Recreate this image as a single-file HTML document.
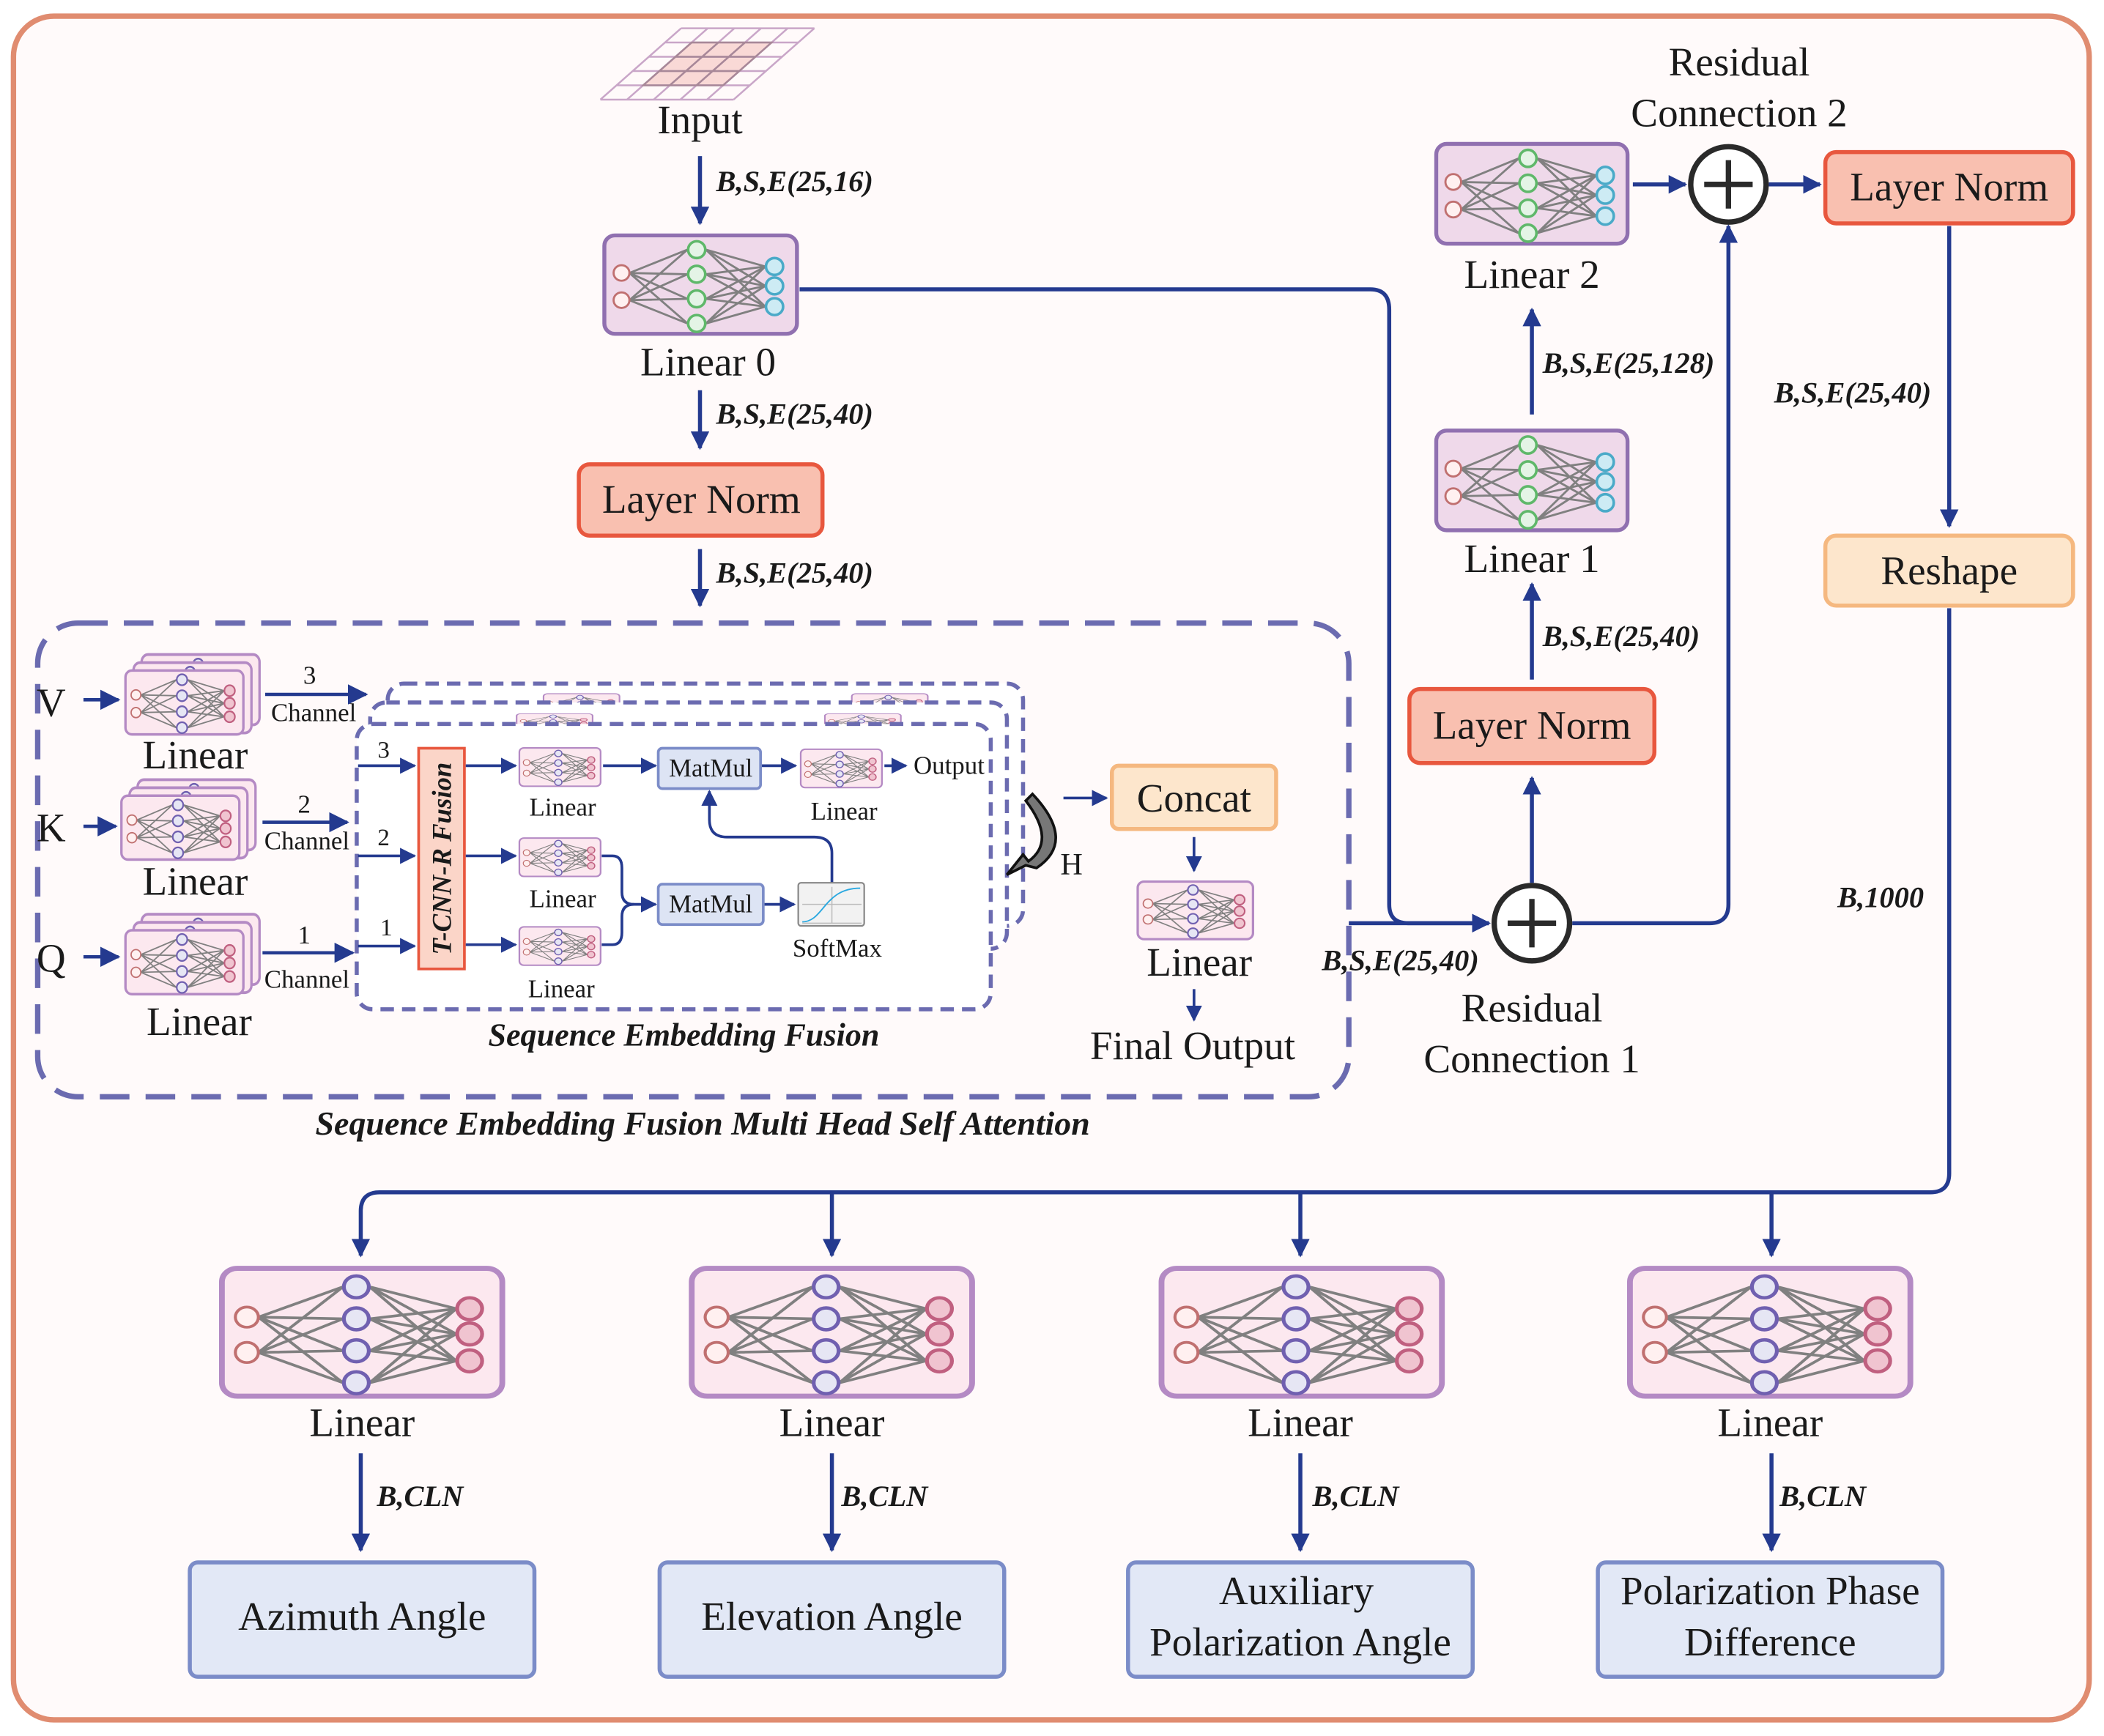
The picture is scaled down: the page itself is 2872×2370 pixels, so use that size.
<!DOCTYPE html>
<html><head><meta charset="utf-8"><style>
html,body{margin:0;padding:0;background:#fff}
svg{display:block}
text{font-family:"Liberation Serif",serif;fill:#1a1a1a}
.l{font-size:30px;text-anchor:middle}
.s{font-size:19px;text-anchor:middle}
.b{font-size:22px;font-weight:bold;font-style:italic}
</style></head><body>
<svg width="2872" height="2370" viewBox="0 0 1563 1290" preserveAspectRatio="none" xmlns="http://www.w3.org/2000/svg">
<defs>
<marker id="ar" viewBox="0 0 10 10" refX="9" refY="5" markerWidth="4.6" markerHeight="4.6" orient="auto-start-reverse"><path d="M0,0L10,5L0,10z" fill="#243a8f"/></marker>
<marker id="ars" viewBox="0 0 10 10" refX="9" refY="5" markerWidth="6" markerHeight="6" orient="auto"><path d="M0,0L10,5L0,10z" fill="#243a8f"/></marker>
<g id="lines">
<g stroke="#808080" stroke-width="1.6">
<path d="M21,31L65,13M21,31L65,32M21,31L65,51M21,31L65,70M21,52L65,13M21,52L65,32M21,52L65,51M21,52L65,70"/>
<path d="M79,13L124,26M79,13L124,41M79,13L124,57M79,32L124,26M79,32L124,41M79,32L124,57M79,51L124,26M79,51L124,41M79,51L124,57M79,70L124,26M79,70L124,41M79,70L124,57"/>
</g></g>
<symbol id="nnG" viewBox="0 0 150 80" preserveAspectRatio="none">
<rect x="2" y="2" width="146" height="76" rx="8" fill="#efd9ea" stroke="#9070b0" stroke-width="3"/>
<use href="#lines"/>
<g fill="#fff0f0" stroke="#c07070" stroke-width="1.6"><circle cx="15" cy="31" r="6"/><circle cx="15" cy="52" r="6"/></g>
<g fill="#e4f4e6" stroke="#5fb86a" stroke-width="2"><circle cx="72" cy="13" r="6.5"/><circle cx="72" cy="32" r="6.5"/><circle cx="72" cy="51" r="6.5"/><circle cx="72" cy="70" r="6.5"/></g>
<g fill="#cdebf4" stroke="#4aaac8" stroke-width="2"><circle cx="131" cy="26" r="6.5"/><circle cx="131" cy="41" r="6.5"/><circle cx="131" cy="57" r="6.5"/></g>
</symbol>
<symbol id="nnP" viewBox="0 0 150 80" preserveAspectRatio="none">
<rect x="2" y="2" width="146" height="76" rx="8" fill="#fce8ef" stroke="#b48ac4" stroke-width="3"/>
<use href="#lines"/>
<g fill="#fff0f0" stroke="#c07070" stroke-width="1.6"><circle cx="15" cy="31" r="6"/><circle cx="15" cy="52" r="6"/></g>
<g fill="#e6e6f4" stroke="#7060b0" stroke-width="2"><circle cx="72" cy="13" r="6.5"/><circle cx="72" cy="32" r="6.5"/><circle cx="72" cy="51" r="6.5"/><circle cx="72" cy="70" r="6.5"/></g>
<g fill="#f0c4d0" stroke="#c06080" stroke-width="2"><circle cx="131" cy="26" r="6.5"/><circle cx="131" cy="41" r="6.5"/><circle cx="131" cy="57" r="6.5"/></g>
</symbol>
</defs>

<rect x="10" y="12" width="1542" height="1266" rx="30" fill="#fffafa" stroke="#e08c70" stroke-width="4"/>

<g transform="matrix(19.8,0,-12,10.6,506,21)">
<rect x="1" y="1" width="3" height="3" fill="#f9d9d6"/>
<path vector-effect="non-scaling-stroke" fill="none" stroke="#c9a6c8" stroke-width="2.5" d="M0,0H5M0,1H5M0,2H5M0,3H5M0,4H5M0,5H5M0,0V5M1,0V5M2,0V5M3,0V5M4,0V5M5,0V5"/>
<path vector-effect="non-scaling-stroke" fill="none" stroke="#a88898" stroke-width="2.5" d="M1,1H4V4H1ZM2,1V4M3,1V4M1,2H4M1,3H4"/>
</g>
<text x="520" y="99" class="l">Input</text>

<g stroke="#243a8f" stroke-width="3" fill="none">
<path d="M520,116V166" marker-end="url(#ar)"/>
<path d="M520,290V333" marker-end="url(#ar)"/>
<path d="M520,408V450" marker-end="url(#ar)"/>
<path d="M594,215H1018Q1032,215 1032,230V672Q1032,686 1046,686H1106" marker-end="url(#ar)"/>
<path d="M1002,686H1106" marker-end="url(#ar)"/>
<path d="M1138,656V578" marker-end="url(#ar)"/>
<path d="M1138,505V434" marker-end="url(#ar)"/>
<path d="M1138,308V230" marker-end="url(#ar)"/>
<path d="M1213,137H1252" marker-end="url(#ar)"/>
<path d="M1168,686H1270Q1284,686 1284,672V168" marker-end="url(#ar)"/>
<path d="M1314,137H1352" marker-end="url(#ar)"/>
<path d="M1448,168V391" marker-end="url(#ar)"/>
<path d="M1448,452V872Q1448,886 1434,886H282Q268,886 268,900V933" marker-end="url(#ar)"/>
<path d="M618,886V933" marker-end="url(#ar)"/>
<path d="M966,886V933" marker-end="url(#ar)"/>
<path d="M1316,886V933" marker-end="url(#ar)"/>
<path d="M268,1080V1152" marker-end="url(#ar)"/>
<path d="M618,1080V1152" marker-end="url(#ar)"/>
<path d="M966,1080V1152" marker-end="url(#ar)"/>
<path d="M1316,1080V1152" marker-end="url(#ar)"/>
</g>

<text x="532" y="142" class="b">B,S,E(25,16)</text>
<use href="#nnG" x="447" y="173" width="147" height="77"/>
<text x="526" y="279" class="l">Linear 0</text>
<text x="532" y="315" class="b">B,S,E(25,40)</text>
<rect x="430" y="345" width="181" height="53" rx="8" fill="#f9c0b0" stroke="#e8573e" stroke-width="3"/>
<text x="521" y="381" class="l">Layer Norm</text>
<text x="532" y="433" class="b">B,S,E(25,40)</text>

<circle cx="1138" cy="686" r="28" fill="#fff" stroke="#2a2a2a" stroke-width="4"/>
<path d="M1120,686H1156M1138,668V704" stroke="#2a2a2a" stroke-width="4"/>
<text x="982" y="721" class="b">B,S,E(25,40)</text>
<text x="1138" y="759" class="l">Residual</text>
<text x="1138" y="797" class="l">Connection 1</text>
<rect x="1047" y="512" width="182" height="55" rx="8" fill="#f9c0b0" stroke="#e8573e" stroke-width="3"/>
<text x="1138" y="549" class="l">Layer Norm</text>
<text x="1146" y="480" class="b">B,S,E(25,40)</text>
<use href="#nnG" x="1065" y="318" width="146" height="78"/>
<text x="1138" y="425" class="l">Linear 1</text>
<text x="1146" y="277" class="b">B,S,E(25,128)</text>
<use href="#nnG" x="1065" y="105" width="146" height="78"/>
<text x="1138" y="214" class="l">Linear 2</text>
<circle cx="1284" cy="137" r="28" fill="#fff" stroke="#2a2a2a" stroke-width="4"/>
<path d="M1266,137H1302M1284,119V155" stroke="#2a2a2a" stroke-width="4"/>
<text x="1292" y="56" class="l">Residual</text>
<text x="1292" y="94" class="l">Connection 2</text>
<rect x="1356" y="113" width="184" height="53" rx="8" fill="#f9c0b0" stroke="#e8573e" stroke-width="3"/>
<text x="1448" y="149" class="l">Layer Norm</text>
<text x="1318" y="299" class="b">B,S,E(25,40)</text>
<rect x="1356" y="398" width="184" height="52" rx="8" fill="#fde6cc" stroke="#f5b880" stroke-width="3"/>
<text x="1448" y="434" class="l">Reshape</text>
<text x="1365" y="674" class="b">B,1000</text>

<rect x="28" y="463" width="974" height="352" rx="30" fill="none" stroke="#6b6bb0" stroke-width="4" stroke-dasharray="22,12"/>
<g font-size="30"><text x="38" y="532" class="l">V</text><text x="38" y="625" class="l">K</text><text x="38" y="722" class="l">Q</text></g>
<g stroke="#243a8f" stroke-width="2.5" fill="none">
<path d="M62,520H88" marker-end="url(#ars)"/><path d="M62,614H86" marker-end="url(#ars)"/><path d="M62,711H88" marker-end="url(#ars)"/>
<path d="M197,516H272" marker-end="url(#ars)"/><path d="M195,611H258" marker-end="url(#ars)"/><path d="M195,708H262" marker-end="url(#ars)"/>
</g>
<use href="#nnP" x="104" y="485" width="90" height="55"/><use href="#nnP" x="98" y="491" width="90" height="55"/><use href="#nnP" x="92" y="497" width="90" height="50"/>
<use href="#nnP" x="101" y="578" width="90" height="55"/><use href="#nnP" x="95" y="584" width="90" height="55"/><use href="#nnP" x="89" y="590" width="90" height="50"/>
<use href="#nnP" x="104" y="678" width="90" height="55"/><use href="#nnP" x="98" y="684" width="90" height="55"/><use href="#nnP" x="92" y="690" width="90" height="50"/>
<text x="145" y="571" class="l">Linear</text><text x="145" y="665" class="l">Linear</text><text x="148" y="769" class="l">Linear</text>
<g font-size="19" text-anchor="middle"><text x="230" y="508">3</text><text x="233" y="536">Channel</text><text x="226" y="604">2</text><text x="228" y="631">Channel</text><text x="226" y="701">1</text><text x="228" y="734">Channel</text></g>

<rect x="288" y="508" width="472" height="180" rx="12" fill="#fff" stroke="#6b6bb0" stroke-width="3" stroke-dasharray="10,6"/>
<use href="#nnP" x="403" y="515" width="58" height="20"/><use href="#nnP" x="632" y="515" width="58" height="20"/>
<rect x="275" y="522" width="473" height="183" rx="12" fill="#fff" stroke="#6b6bb0" stroke-width="3" stroke-dasharray="10,6"/>
<use href="#nnP" x="383" y="530" width="58" height="15"/><use href="#nnP" x="612" y="530" width="58" height="15"/>
<rect x="265" y="538" width="471" height="212" rx="12" fill="#fff" stroke="#6b6bb0" stroke-width="3" stroke-dasharray="10,6"/>

<rect x="311" y="556" width="34" height="164" fill="#fbd5c8" stroke="#e8573e" stroke-width="2"/>
<text transform="translate(335,638) rotate(-90)" font-size="20" font-weight="bold" font-style="italic" text-anchor="middle">T-CNN-R Fusion</text>
<g font-size="18" text-anchor="middle"><text x="285" y="563">3</text><text x="285" y="628">2</text><text x="287" y="695">1</text></g>
<g stroke="#243a8f" stroke-width="2" fill="none">
<path d="M266,569H308" marker-end="url(#ars)"/><path d="M266,636H308" marker-end="url(#ars)"/><path d="M266,703H308" marker-end="url(#ars)"/>
<path d="M346,569H383" marker-end="url(#ars)"/><path d="M346,636H383" marker-end="url(#ars)"/><path d="M346,702H383" marker-end="url(#ars)"/>
<path d="M448,569H487" marker-end="url(#ars)"/><path d="M566,569H591" marker-end="url(#ars)"/><path d="M657,569H673" marker-end="url(#ars)"/>
<path d="M447,636H455Q462,636 462,645V663Q462,672 471,672H487" marker-end="url(#ars)"/>
<path d="M447,702H455Q462,702 462,693V681Q462,672 471,672"/>
<path d="M567,672H590" marker-end="url(#ars)"/>
<path d="M618,656V634Q618,622 605,622H540Q527,622 527,609V588" marker-end="url(#ars)"/>
<path d="M790,593H822" marker-end="url(#ars)"/>
<path d="M887,622V647" marker-end="url(#ars)"/>
<path d="M887,735V758" marker-end="url(#ars)"/>
</g>
<use href="#nnP" x="385" y="555" width="62" height="30"/><use href="#nnP" x="385" y="622" width="62" height="30"/><use href="#nnP" x="385" y="688" width="62" height="30"/>
<use href="#nnP" x="594" y="556" width="62" height="30"/>
<text x="418" y="606" class="s">Linear</text><text x="418" y="674" class="s">Linear</text><text x="417" y="741" class="s">Linear</text><text x="627" y="609" class="s">Linear</text><text x="705" y="575" class="s">Output</text><text x="622" y="711" class="s">SoftMax</text>
<rect x="489" y="556" width="76" height="30" rx="3" fill="#dde4f4" stroke="#7b8cc8" stroke-width="2"/>
<text x="528" y="577" class="s">MatMul</text>
<rect x="489" y="657" width="78" height="30" rx="3" fill="#dde4f4" stroke="#7b8cc8" stroke-width="2"/>
<text x="528" y="678" class="s">MatMul</text>
<rect x="593" y="656" width="49" height="32" rx="2" fill="#f2f2f2" stroke="#888" stroke-width="1.2"/>
<path d="M596,686H640M618,659V686M596,672H640" stroke="#bbb" stroke-width="0.8"/>
<path d="M596,685C612,685 612,660 639,660" stroke="#2aa8e0" stroke-width="1" fill="none"/>
<path d="M767,590Q800,625 770,645L762,643L748,650L760,635L764,640Q785,625 762,595Z" fill="#777" stroke="#111" stroke-width="2"/>
<text x="796" y="650" font-size="23" text-anchor="middle">H</text>
<rect x="826" y="569" width="122" height="47" rx="5" fill="#fde6cc" stroke="#f5b880" stroke-width="3"/>
<text x="887" y="603" class="l">Concat</text>
<use href="#nnP" x="844" y="654" width="88" height="45"/>
<text x="891" y="725" class="l">Linear</text>
<text x="886" y="787" class="l">Final Output</text>
<text x="508" y="777" font-size="24" font-weight="bold" font-style="italic" text-anchor="middle">Sequence Embedding Fusion</text>
<text x="522" y="843" font-size="25" font-weight="bold" font-style="italic" text-anchor="middle">Sequence Embedding Fusion Multi Head Self Attention</text>

<use href="#nnP" x="162" y="940" width="214" height="100"/>
<use href="#nnP" x="511" y="940" width="214" height="100"/>
<use href="#nnP" x="860" y="940" width="214" height="100"/>
<use href="#nnP" x="1208" y="940" width="214" height="100"/>
<text x="269" y="1067" class="l">Linear</text><text x="618" y="1067" class="l">Linear</text><text x="966" y="1067" class="l">Linear</text><text x="1315" y="1067" class="l">Linear</text>
<text x="280" y="1119" class="b">B,CLN</text><text x="625" y="1119" class="b">B,CLN</text><text x="975" y="1119" class="b">B,CLN</text><text x="1322" y="1119" class="b">B,CLN</text>
<g fill="#e2e8f6" stroke="#7b8cc8" stroke-width="3">
<rect x="141" y="1161" width="256" height="85" rx="6"/><rect x="490" y="1161" width="256" height="85" rx="6"/><rect x="838" y="1161" width="256" height="85" rx="6"/><rect x="1187" y="1161" width="256" height="85" rx="6"/>
</g>
<text x="269" y="1211" class="l">Azimuth Angle</text>
<text x="618" y="1211" class="l">Elevation Angle</text>
<text x="963" y="1192" class="l">Auxiliary</text><text x="966" y="1230" class="l">Polarization Angle</text>
<text x="1315" y="1192" class="l">Polarization Phase</text><text x="1315" y="1230" class="l">Difference</text>
</svg>
</body></html>
